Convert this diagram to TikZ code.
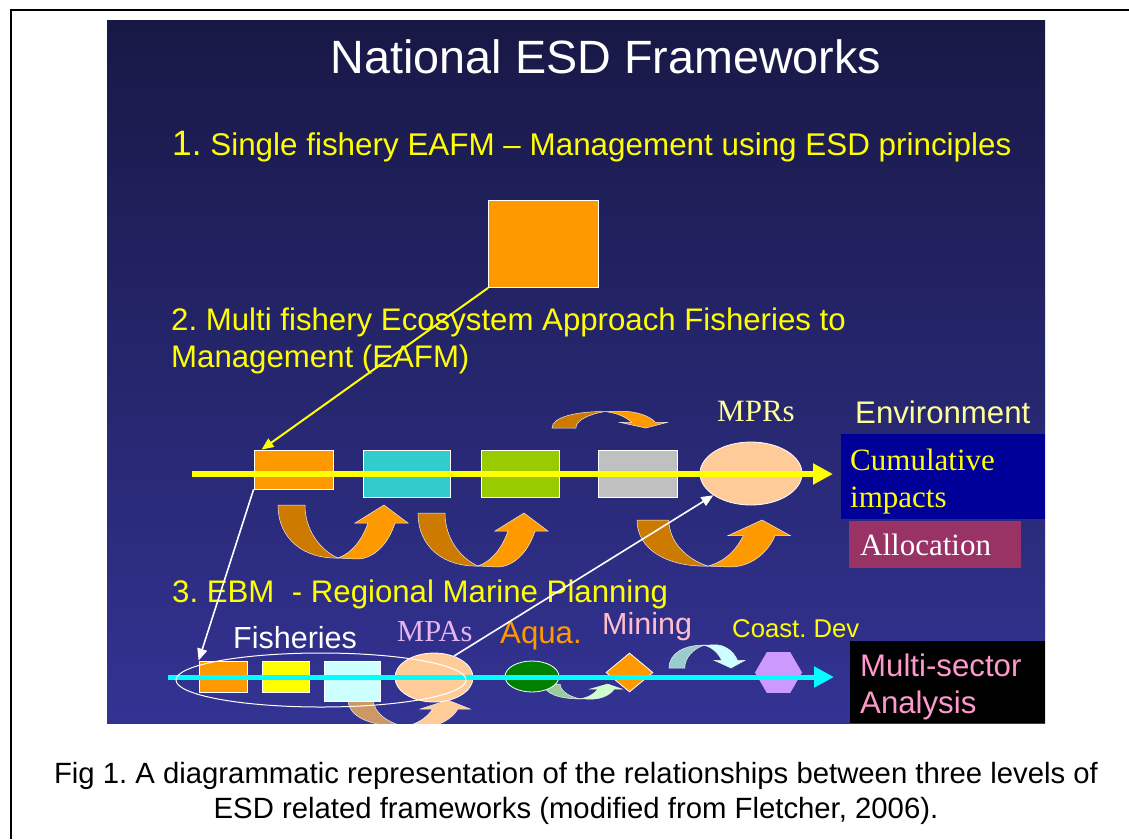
\documentclass[tikz,border=0pt]{standalone}
\usepackage{fontspec}
\setmainfont{Liberation Serif}
\setsansfont{Liberation Sans}
\usetikzlibrary{positioning,arrows.meta,shapes.geometric}
\frenchspacing

\definecolor{slidetop}{RGB}{24,24,70}
\definecolor{slidebot}{RGB}{51,51,148}
\definecolor{esdyellow}{RGB}{255,255,0}
\definecolor{esdaqua}{RGB}{0,255,255}
\definecolor{esdorange}{RGB}{255,153,0}
\definecolor{esddark}{RGB}{204,122,0}
\definecolor{esdcyan}{RGB}{51,204,204}
\definecolor{esdgreen}{RGB}{153,204,0}
\definecolor{esdgray}{RGB}{192,192,192}
\definecolor{esdpeach}{RGB}{255,204,153}
\definecolor{esdtan}{RGB}{204,153,102}
\definecolor{paleyellow}{RGB}{255,255,153}
\definecolor{deepblue}{RGB}{0,0,153}
\definecolor{plum}{RGB}{153,51,102}
\definecolor{palecyan}{RGB}{204,255,255}
\definecolor{sagegreen}{RGB}{153,204,153}
\definecolor{mintgreen}{RGB}{204,255,204}
\definecolor{tealgray}{RGB}{153,204,204}
\definecolor{lavender}{RGB}{204,153,255}
\definecolor{lilac}{RGB}{230,180,240}
\definecolor{rosepink}{RGB}{255,190,205}
\definecolor{sectorpink}{RGB}{255,153,204}
\definecolor{aquagreen}{RGB}{0,128,0}

\begin{document}
\begin{tikzpicture}[
  x=1pt, y=-1pt,
  font=\sffamily,
  big/.style={font=\sffamily\fontsize{31.2}{37}\selectfont},
  serif/.style={font=\rmfamily\fontsize{31}{37}\selectfont},
  txt/.style={anchor=base west, inner sep=0pt},
  box/.style={draw=white, line width=0.8pt, inner sep=0pt},
  blob/.style={ellipse, draw=white, line width=0.8pt, inner sep=0pt},
  flowline/.style={-{Triangle[length=20pt, width=20pt]}},
  link/.style={line width=1.6pt, -{Triangle[length=12pt, width=10pt]}},
  pics/uturn/.style 2 args={code={
    \filldraw[fill=#1, draw=white!85!gray, line width=0.5pt]
      (0,0) -- (27,0) .. controls (27,25) and (42,45) .. (60,53)
      .. controls (27,54) and (0,35) .. (0,0) -- cycle;
    \filldraw[fill=#2, draw=white!85!gray, line width=0.5pt]
      (60,53) .. controls (74,48) and (84,35) .. (90,18) -- (77,18)
      -- (106,0) -- (130,18) -- (117,18)
      .. controls (110,40) and (95,54) .. (79,54) -- cycle;
  }},
]
  \useasboundingbox (0,0) rectangle (1129,839);
  \draw[line width=2.4pt] (11,839) -- (11,10) -- (1129,10);

  % slide
  \fill[top color=slidetop, bottom color=slidebot] (107,20) rectangle (1045,723);
  \node[anchor=base, inner sep=0pt, white, font=\sffamily\fontsize{46.7}{50}\selectfont]
    (title) at (606,73) {National ESD Frameworks};

  % level 1
  \node[txt, big, text=esdyellow, font=\sffamily\fontsize{31.4}{37}\selectfont] (lev1) at (172,155)
    {{\fontsize{35.3}{40}\selectfont 1.} Single fishery EAFM \textendash{} Management using ESD principles};
  \node[box, fill=esdorange, minimum width=110pt, minimum height=87pt] (sq) at (543.5,244) {};

  % level 2
  \node[txt, big, text=esdyellow] (lev2a) at (171,330) {2. Multi fishery Ecosystem Approach Fisheries to};
  \node[txt, big, text=esdyellow] (lev2b) at (171,367) {Management (EAFM)};

  \pic[xscale=0.885, yscale=-0.31] at (552,428) {uturn={esddark}{esdorange}};
  \pic at (278,505) {uturn={esddark}{esdorange}};
  \pic at (418,513) {uturn={esddark}{esdorange}};
  \pic[xscale=1.18, yscale=0.87] at (637,520) {uturn={esddark}{esdorange}};

  \node[box, fill=esdorange, minimum width=79pt, minimum height=39pt] (ora) at (293.5,469.5) {};
  \node[box, fill=esdcyan, minimum width=87pt, minimum height=47pt] (cya) at (406.5,473.5) {};
  \node[box, fill=esdgreen, minimum width=78pt, minimum height=47pt] (gre) at (520,473.5) {};
  \node[box, fill=esdgray, minimum width=79pt, minimum height=47pt] (gry) at (637.5,473.5) {};
  \node[blob, fill=esdpeach, minimum width=102pt, minimum height=63pt] (mpr) at (751,473.5) {};

  \coordinate (ystart) at (192,474);
  \coordinate (yend) at (833,474);
  \draw[flowline, esdyellow, line width=6pt] (ystart) -- (yend);

  \node[txt, serif, text=paleyellow] at (717,421) {MPRs};
  \node[txt, big, text=paleyellow] at (855,423) {Environment};
  \node[fill=deepblue, minimum width=204pt, minimum height=85pt, inner sep=0pt] (cum) at (943,476.5) {};
  \node[txt, serif, text=esdyellow] at (850,470) {Cumulative};
  \node[txt, serif, text=esdyellow] at (850,507) {impacts};
  \node[fill=plum, minimum width=172pt, minimum height=47pt, inner sep=0pt] (alloc) at (935,544.5) {};
  \node[txt, serif, text=white] at (860,555) {Allocation};

  % level 3
  \node[txt, big, text=esdyellow] (lev3) at (172,602) {3. EBM~ - Regional Marine Planning};
  \node[txt, big, text=white, font=\sffamily\fontsize{30.5}{36}\selectfont] at (233,648) {Fisheries};
  \node[txt, serif, text=lilac, font=\rmfamily\fontsize{30.5}{36}\selectfont] at (397,641) {MPAs};
  \node[txt, big, text=esdorange] at (500,643) {Aqua.};
  \node[txt, big, text=rosepink, font=\sffamily\fontsize{30.5}{36}\selectfont] at (602,634) {Mining};
  \node[txt, text=esdyellow, font=\sffamily\fontsize{25.7}{30}\selectfont] at (732,637) {Coast. Dev};

  \begin{scope}
    \clip (107,20) rectangle (1045,723);
    \pic[xscale=0.94, yscale=0.5] at (348,700) {uturn={esdtan}{esdpeach}};
  \end{scope}
  \pic[xscale=0.6, yscale=0.28] at (544,684) {uturn={sagegreen}{mintgreen}};
  \pic[xscale=0.585, yscale=-0.43] at (669,668) {uturn={tealgray}{palecyan}};

  \node[box, fill=esdorange, minimum width=48pt, minimum height=31pt] (f1) at (223,676.5) {};
  \node[box, fill=esdyellow, minimum width=47pt, minimum height=31pt] (f2) at (285.5,676.5) {};
  \node[box, fill=palecyan, minimum width=56pt, minimum height=40pt] (f3) at (352,681) {};
  \node[blob, fill=esdpeach, minimum width=78pt, minimum height=49pt] (mpa) at (434,677.5) {};
  \node[blob, fill=aquagreen, minimum width=54pt, minimum height=31pt] (aqua) at (532,676.5) {};
  \node[diamond, fill=esdorange, draw=white, line width=0.8pt, inner sep=0pt,
        minimum width=47pt, minimum height=39pt] (mine) at (629.5,672.5) {};
  \node[regular polygon, regular polygon sides=6, fill=lavender,
        inner sep=0pt, minimum size=47pt] (coast) at (778.5,672.5) {};

  \coordinate (cstart) at (168,677);
  \coordinate (cend) at (834,677);
  \draw[flowline, esdaqua, line width=5pt] (cstart) -- (cend);
  \node[ellipse, draw=white, line width=1pt, minimum width=290pt, minimum height=54pt] (ring) at (321,680) {};

  \node[fill=black, minimum width=195pt, minimum height=82pt, inner sep=0pt] (msa) at (947.5,682) {};
  \node[txt, big, text=sectorpink] at (860,676) {Multi-sector};
  \node[txt, big, text=sectorpink] at (860,713) {Analysis};

  % links between levels
  \draw[link, esdyellow, line width=2pt] (sq.south west) -- ([xshift=8pt]ora.north west);
  \draw[link, white] (ora.south west) -- (f1.north west);
  \draw[link, white] (mpa.47) -- (mpr.210);

  % caption
  \node[anchor=base, inner sep=0pt, font=\sffamily\fontsize{29.3}{34}\selectfont] (cap1) at (576,783)
    {Fig 1. A diagrammatic representation of the relationships between three levels of};
  \node[anchor=base, inner sep=0pt, font=\sffamily\fontsize{29.3}{34}\selectfont] (cap2) at (576,818)
    {ESD related frameworks (modified from Fletcher, 2006).};
\end{tikzpicture}
\end{document}
